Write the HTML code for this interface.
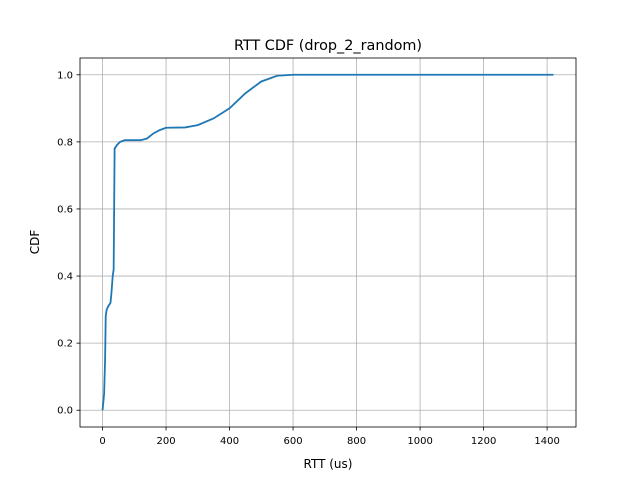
<!DOCTYPE html>
<html><head><meta charset="utf-8"><style>
body{margin:0;background:#fff;font-family:"DejaVu Sans","Liberation Sans",sans-serif}
</style></head><body>
<svg id="c" width="640" height="480" xmlns="http://www.w3.org/2000/svg" font-family="DejaVu Sans, Liberation Sans, sans-serif">
<rect width="640" height="480" fill="#fff"/>
<text x="328" y="50" text-anchor="middle" font-size="14.4">RTT CDF (drop_2_random)</text>
<text x="328" y="468" text-anchor="middle" font-size="12">RTT (us)</text>
<text transform="translate(39,242) rotate(-90)" text-anchor="middle" font-size="12">CDF</text>
<g id="grid"></g><g id="ticks"></g>
<path id="line" fill="none" stroke="#1f77b4" stroke-width="1.8"/>
<rect x="80" y="58" width="496" height="369" fill="none" stroke="#000" stroke-width="0.8"/>
</svg>
<script>
const rttValues=[0,3,5,8,10,13,18,25,28,32,35,38,45,55,70,120,140,160,180,200,260,300,350,400,450,500,550,600,1420];
const cdfValues=[0,0.03,0.05,0.15,0.28,0.30,0.31,0.32,0.35,0.40,0.42,0.78,0.79,0.80,0.805,0.805,0.81,0.825,0.835,0.842,0.843,0.85,0.87,0.90,0.945,0.98,0.997,1.0,1.0];
const xTicks=[0,200,400,600,800,1000,1200,1400];
const yTicks=[0.0,0.2,0.4,0.6,0.8,1.0];
const L=80,R=576,T=58,B=427,x0=-71,x1=1491,y0=-0.05,y1=1.05;
const X=v=>L+(v-x0)/(x1-x0)*(R-L);
const Y=v=>B-(v-y0)/(y1-y0)*(B-T);
const NS="http://www.w3.org/2000/svg";
const g=document.getElementById('grid'),tk=document.getElementById('ticks');
function mk(tag,a,p){const e=document.createElementNS(NS,tag);for(const k in a)e.setAttribute(k,a[k]);p.appendChild(e);return e;}
xTicks.forEach(v=>{const x=X(v);
const gl=mk('line',{x1:x,x2:x,y1:T,y2:B,stroke:'#b0b0b0','stroke-width':0.8},g);


mk('line',{x1:x,x2:x,y1:B,y2:B+3.5,stroke:'#000','stroke-width':0.8},tk);
const t=mk('text',{x:x,y:B+17,'text-anchor':'middle','font-size':10},tk);t.textContent=v;

});
yTicks.forEach(v=>{const y=Y(v);
const gl=mk('line',{x1:L,x2:R,y1:y,y2:y,stroke:'#b0b0b0','stroke-width':0.8},g);


mk('line',{x1:L-3.5,x2:L,y1:y,y2:y,stroke:'#000','stroke-width':0.8},tk);
const t=mk('text',{x:L-7,y:y+3.5,'text-anchor':'end','font-size':10},tk);t.textContent=v.toFixed(1);

});
document.getElementById('line').setAttribute('d',rttValues.map((v,i)=>(i?'L':'M')+X(v).toFixed(2)+' '+Y(cdfValues[i]).toFixed(2)).join(' '));
</script>
</body></html>
